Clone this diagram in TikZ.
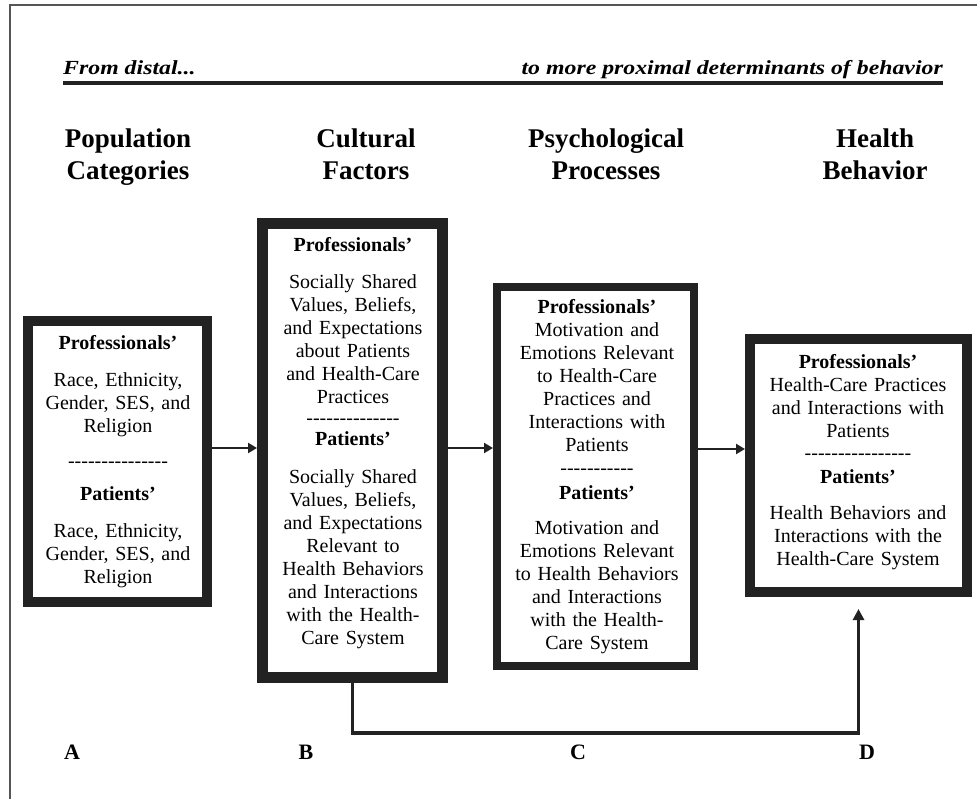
\documentclass[tikz,border=0pt]{standalone}
\usepackage{fontspec}
\setmainfont{Liberation Serif}
\usetikzlibrary{arrows.meta,calc}
\definecolor{ink}{HTML}{222222}
\definecolor{framegray}{HTML}{555555}
\newcommand\hy{-\kern0pt}
\newcommand\hyfive{\hy\hy\hy\hy\hy}
\begin{document}
\begin{tikzpicture}[x=1pt,y=-1pt,
  box/.style={draw=ink, fill=white, rectangle, inner sep=0pt},
  body/.style={font=\fontsize{20}{23}\selectfont, align=center, inner sep=0pt, anchor=base, text=black},
  colhead/.style={font=\fontsize{27}{32}\selectfont\bfseries, align=center, anchor=base, inner sep=0pt, text width=220pt},
  lab/.style={font=\fontsize{22}{26}\selectfont\bfseries, anchor=base, inner sep=0pt},
  flow/.style={draw=ink, line width=2.5pt, -{Triangle[length=9pt,width=10pt]}},
  back/.style={draw=ink, line width=3.5pt, -{Triangle[length=11pt,width=11pt]}},
  topline/.style={font=\fontsize{20}{24}\selectfont\bfseries\itshape, inner sep=0pt, xscale=1.19, transform shape}
]
\useasboundingbox (0,0) rectangle (977,799);
\fill[white] (0,0) rectangle (977,799);
% frame
\draw[framegray, line width=2pt] (10,799) -- (10,5) -- (977,5);

% top heading
\node[topline, anchor=base west] (fromd) at (63,75) {From distal...};
\node[topline, anchor=base east] (tomore) at (943,75) {to more proximal determinants of behavior};
\coordinate (ul1) at (63,83);
\coordinate (ul2) at (943,83);
\draw[ink, line width=3.5pt] (ul1) -- (ul2);

% column headings
\node[colhead] (hA) at (128,148) {Population\\Categories};
\node[colhead] (hB) at (366,148) {Cultural\\Factors};
\node[colhead] (hC) at (606,148) {Psychological\\Processes};
\node[colhead] (hD) at (875,148) {Health\\Behavior};

% boxes
\node[box, line width=10pt, minimum width=179pt, minimum height=281pt] (A) at (117.5,461.5) {};
\node[box, line width=11pt, minimum width=180pt, minimum height=454pt] (B) at (352.5,450.5) {};
\node[box, line width=8pt, minimum width=197pt, minimum height=379pt] (C) at (595.5,476.5) {};
\node[box, line width=10pt, minimum width=217pt, minimum height=253pt] (D) at (858.5,465.5) {};

% box texts
\node[body, text width=170pt] (At) at (118,350) {%
\textbf{Professionals’}\\[14pt]
Race, Ethnicity,\\
Gender, SES, and\\
Religion\\[12pt]
\hyfive\hyfive\hyfive\\[10pt]
\textbf{Patients’}\\[14pt]
Race, Ethnicity,\\
Gender, SES, and\\
Religion};

\node[body, text width=172pt] (Bt) at (353,252) {%
\textbf{Professionals’}\\[14pt]
Socially Shared\\
Values, Beliefs,\\
and Expectations\\
about Patients\\
and Health-Care\\
Practices\\[-2pt]
\hyfive\hyfive\hy\hy\hy\hy\\[-2pt]
\textbf{Patients’}\\[15pt]
Socially Shared\\
Values, Beliefs,\\
and Expectations\\
Relevant to\\
Health Behaviors\\
and Interactions\\
with the Health-\\
Care System};

\node[body, text width=188pt] (Ct) at (597,314) {%
\textbf{Professionals’}\\
Motivation and\\
Emotions Relevant\\
to Health-Care\\
Practices and\\
Interactions with\\
Patients\\
\hyfive\hyfive\hy\\[1.5pt]
\textbf{Patients’}\\[12pt]
Motivation and\\
Emotions Relevant\\
to Health Behaviors\\
and Interactions\\
with the Health-\\
Care System};

\node[body, text width=205pt] (Dt) at (858,369) {%
\textbf{Professionals’}\\
Health-Care Practices\\
and Interactions with\\
Patients\\[-1.5pt]
\hyfive\hyfive\hyfive\hy\\[1.5pt]
\textbf{Patients’}\\[13pt]
Health Behaviors and\\
Interactions with the\\
Health-Care System};

% flow arrows
\coordinate (yflow) at (0,448);
\coordinate (yflow2) at (0,449);
\draw[flow] (A.east |- yflow) -- (B.west |- yflow);
\draw[flow] (B.east |- yflow) -- (C.west |- yflow);
\draw[flow] (C.east |- yflow2) -- (D.west |- yflow2);

% feedback path
\coordinate (fbl) at (0,733);
\coordinate (fbend) at (858.5,609);
\draw[back] (B.south) -- (B.south |- fbl) -| (fbend);

% labels
\node[lab] (lA) at (72,759) {A};
\node[lab] (lB) at (306,759) {B};
\node[lab] (lC) at (578,759) {C};
\node[lab] (lD) at (867,759) {D};
\end{tikzpicture}
\end{document}
